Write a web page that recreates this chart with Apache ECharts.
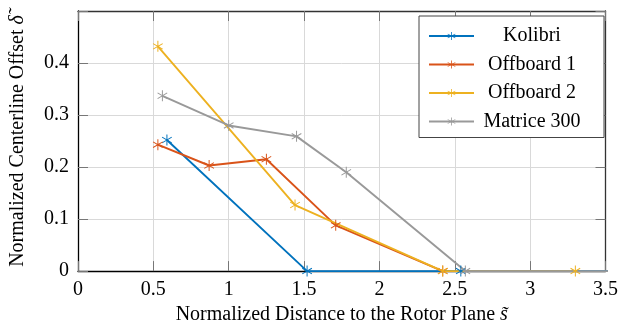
<!DOCTYPE html>
<html><head><meta charset="utf-8">
<script src="https://cdn.jsdelivr.net/npm/echarts@6/dist/echarts.min.js"></script>
<style>html,body{margin:0;padding:0;background:#fff}#c{width:621px;height:330px}</style>
</head><body><div id="c"></div>
<script>
const seriesNames = ['Kolibri', 'Offboard 1', 'Offboard 2', 'Matrice 300'];
const kolibriX = [0.59, 1.52, 2.54, 3.7];
const kolibriY = [0.252, 0, 0, 0];
const offboard1X = [0.53, 0.87, 1.25, 1.71, 2.42];
const offboard1Y = [0.243, 0.203, 0.215, 0.088, 0];
const offboard2X = [0.53, 1.44, 2.42, 3.3];
const offboard2Y = [0.432, 0.127, 0, 0];
const matriceX = [0.56, 1.0, 1.45, 1.78, 2.57, 3.7];
const matriceY = [0.337, 0.28, 0.259, 0.19, 0, 0];
const xTicks = [0, 0.5, 1, 1.5, 2, 2.5, 3, 3.5];
const yTicks = [0, 0.1, 0.2, 0.3, 0.4];
const colors = ['#0072BD', '#D95319', '#EDB120', '#999999'];

const star = 'path://M9.1 0L10.9 0L10.9 20L9.1 20Z M0.8 5.6L1.7 4.1L19.2 14.4L18.3 15.9Z M0.8 14.4L18.3 4.1L19.2 5.6L1.7 15.9Z';
const font = 'Liberation Serif';
const fs = 20;
function pairs(xs, ys){ return xs.map((x,i)=>[x, ys[i]]); }
const allX = [kolibriX, offboard1X, offboard2X, matriceX];
const allY = [kolibriY, offboard1Y, offboard2Y, matriceY];
function ticks(){ return {show: true, inside: true, length: 10, lineStyle: {color: '#777', width: 1}}; }

const chart = echarts.init(document.getElementById('c'));
chart.setOption({
  animation: false,
  color: colors,
  grid: {left: 77, right: 14, top: 11, bottom: 56},
  xAxis: [{
    type: 'value', min: 0, max: 3.5, interval: 0.5, position: 'bottom',
    name: 'Normalized Distance to the Rotor Plane {i|s\u0303}', nameLocation: 'middle', nameGap: 33,
    nameTextStyle: {fontFamily: font, fontSize: fs, color: '#000', rich: {i: {fontFamily: font, fontSize: fs, fontStyle: 'italic', color: '#000'}}},
    axisLine: {show: true, onZero: false, lineStyle: {color: '#000', width: 1.3}},
    axisTick: ticks(),
    axisLabel: {fontFamily: font, fontSize: fs, color: '#000', margin: 9,
      formatter: v => xTicks.includes(+v.toFixed(2)) ? String(+v.toFixed(2)) : ''},
    splitLine: {show: true, lineStyle: {color: '#d9d9d9', width: 1}}
  }, {
    type: 'value', position: 'top', min: 0, max: 3.5, interval: 0.5,
    axisLine: {show: true, onZero: false, lineStyle: {color: '#333', width: 1.3}},
    axisTick: ticks(),
    axisLabel: {show: false}, splitLine: {show: false}
  }],
  yAxis: [{
    type: 'value', min: 0, max: 0.5, interval: 0.1, position: 'left',
    name: 'Normalized Centerline Offset {i|\u03B4\u0303}', nameLocation: 'middle', nameGap: 50,
    nameTextStyle: {fontFamily: font, fontSize: fs, color: '#000', rich: {i: {fontFamily: font, fontSize: fs, fontStyle: 'italic', color: '#000'}}},
    axisLine: {show: true, onZero: false, lineStyle: {color: '#000', width: 1.3}},
    axisTick: ticks(),
    axisLabel: {fontFamily: font, fontSize: fs, color: '#000', margin: 9,
      formatter: v => yTicks.includes(+v.toFixed(2)) ? String(+v.toFixed(2)) : ''},
    splitLine: {show: true, lineStyle: {color: '#d9d9d9', width: 1}}
  }, {
    type: 'value', position: 'right', min: 0, max: 0.5, interval: 0.1,
    axisLine: {show: true, onZero: false, lineStyle: {color: '#333', width: 1.3}},
    axisTick: ticks(),
    axisLabel: {show: false}, splitLine: {show: false}
  }],
  legend: {
    right: 17, top: 16, orient: 'vertical',
    backgroundColor: '#fff', borderColor: '#444', borderWidth: 1,
    padding: [10, 19, 6, 9], itemGap: 8.5, itemWidth: 45, itemHeight: 10,
    data: seriesNames,
    formatter: '{a|{name}}',
    textStyle: {fontFamily: font, fontSize: fs, color: '#000',
      rich: {a: {fontFamily: font, fontSize: fs, color: '#000', width: 106, align: 'center', lineHeight: 20}}}
  },
  series: seriesNames.map((n, i) => ({
    name: n, type: 'line', data: pairs(allX[i], allY[i]),
    symbol: star, symbolSize: 11, symbolKeepAspect: true, showAllSymbol: true,
    clip: true,
    lineStyle: {width: 1.9, color: colors[i]},
    itemStyle: {color: colors[i]}
  }))
});
</script></body></html>
